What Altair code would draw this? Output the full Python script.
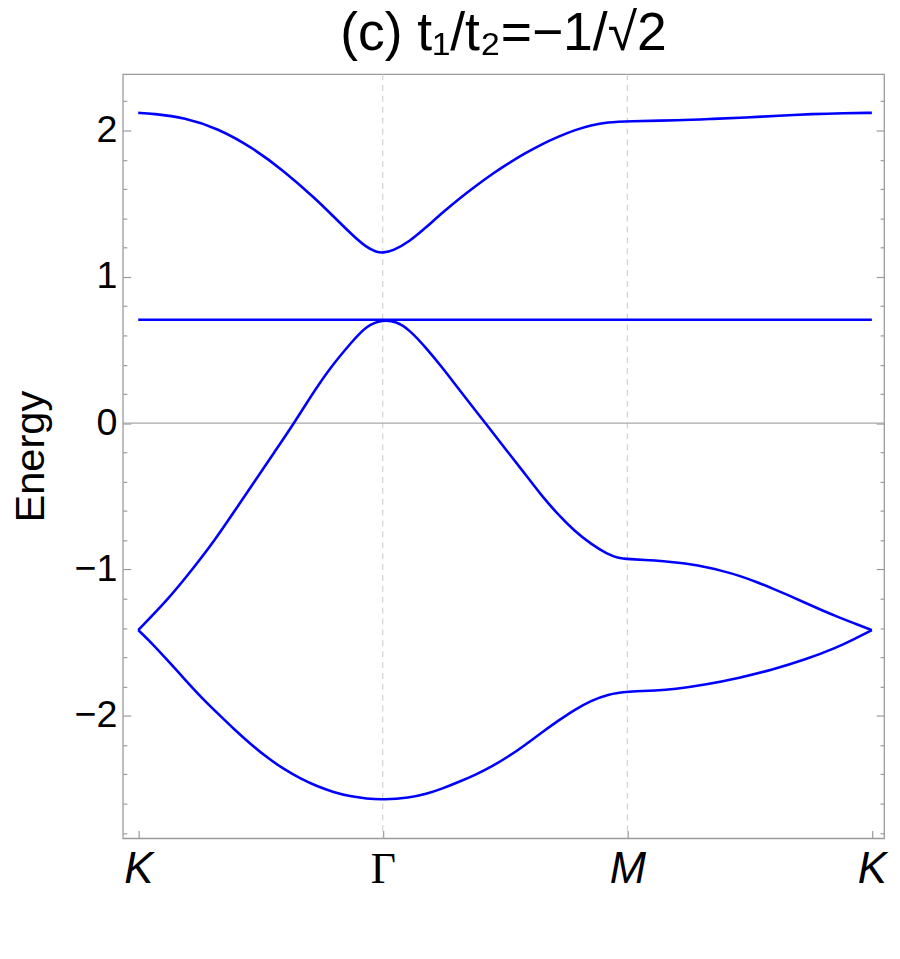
import altair as alt
import pandas as pd

# High-symmetry path: K - Gamma - M - K (equal segment lengths)
k_positions = [0, 1, 2, 3]
k_labels = ["K", "Γ", "M", "K"]

# Band 1 (lowest)
band1_x = [0.0, 0.056, 0.124, 0.191, 0.259, 0.326, 0.394, 0.461, 0.529, 0.596, 0.664,
           0.731, 0.799, 0.866, 0.934, 1.0,
           1.109, 1.177, 1.244, 1.312, 1.379, 1.447, 1.514, 1.582, 1.649, 1.717,
           1.784, 1.852, 1.919, 2.0,
           2.121, 2.188, 2.323, 2.458, 2.592, 2.727, 2.861, 2.929, 3.0]
band1_E = [-1.414, -1.504, -1.628, -1.752, -1.876, -1.985, -2.095, -2.195, -2.288, -2.365, -2.430,
           -2.482, -2.522, -2.550, -2.566, -2.573,
           -2.560, -2.535, -2.497, -2.451, -2.403, -2.345, -2.278, -2.200, -2.115, -2.034,
           -1.958, -1.896, -1.853, -1.833,
           -1.827, -1.819, -1.786, -1.741, -1.685, -1.617, -1.530, -1.475, -1.414]

# Band 2 (dispersive, touches the flat band at Gamma)
band2_x = [0.0, 0.124, 0.221, 0.313, 0.394, 0.475, 0.556, 0.637, 0.708, 0.785, 0.873, 0.934, 1.0,
           1.055, 1.109, 1.177, 1.244, 1.312, 1.420, 1.514, 1.582, 1.649, 1.717, 1.784, 1.852,
           1.919, 1.960, 2.0,
           2.121, 2.188, 2.256, 2.323, 2.390, 2.458, 2.525, 2.592, 2.660, 2.727, 2.794, 2.861,
           2.929, 3.0]
band2_E = [-1.414, -1.200, -1.000, -0.800, -0.600, -0.400, -0.200, 0.000, 0.190, 0.380, 0.555, 0.668, 0.707,
           0.695, 0.639, 0.515, 0.379, 0.230, 0.000, -0.203, -0.347, -0.494, -0.625, -0.737, -0.827,
           -0.895, -0.920, -0.929,
           -0.938, -0.950, -0.963, -0.984, -1.010, -1.042, -1.083, -1.128, -1.177, -1.227, -1.277, -1.324,
           -1.368, -1.414]

# Band 3 (flat band)
band3_x = [0.0, 3.0]
band3_E = [0.707, 0.707]

# Band 4 (top)
band4_x = [0.0, 0.056, 0.191, 0.326, 0.461, 0.596, 0.731, 0.800, 0.873, 0.934, 0.974, 1.0,
           1.042, 1.109, 1.177, 1.244, 1.312, 1.379, 1.447, 1.514, 1.582, 1.649, 1.717,
           1.784, 1.852, 1.919, 2.0,
           2.215, 2.350, 2.485, 2.619, 2.754, 2.888, 3.0]
band4_E = [2.121, 2.116, 2.089, 2.014, 1.890, 1.725, 1.525, 1.410, 1.290, 1.200, 1.170, 1.164,
           1.178, 1.241, 1.338, 1.439, 1.534, 1.620, 1.703, 1.777, 1.845, 1.906, 1.958,
           2.003, 2.037, 2.057, 2.064,
           2.070, 2.080, 2.089, 2.102, 2.113, 2.119, 2.121]

y_tick_values = [-2.8, -2.6, -2.4, -2.2, -2.0, -1.8, -1.6, -1.4, -1.2, -1.0, -0.8, -0.6, -0.4,
                 -0.2, 0.0, 0.2, 0.4, 0.6, 0.8, 1.0, 1.2, 1.4, 1.6, 1.8, 2.0, 2.2]
vline_positions = [1, 2]
zero_level = [0.0]

rows = []
for name, xs, es in [("1", band1_x, band1_E), ("2", band2_x, band2_E),
                     ("3", band3_x, band3_E), ("4", band4_x, band4_E)]:
    rows += [{"band": name, "k": x, "E": e} for x, e in zip(xs, es)]
df = pd.DataFrame(rows)

x_scale = alt.Scale(domain=[-0.063, 3.05], nice=False, zero=False)
y_scale = alt.Scale(domain=[-2.837, 2.386], nice=False, zero=False)

FONT = "Liberation Sans"
FRAME = "#9a9a9a"
major_test = "abs(datum.value - round(datum.value)) < 0.01"

label_array = "[" + ",".join("'" + s + "'" for s in k_labels) + "]"

x_axis = alt.Axis(
    values=k_positions,
    labelExpr=label_array + "[datum.value]",
    labelFontSize=44,
    labelFont={"condition": {"test": "datum.value === 1", "value": "Liberation Serif"}, "value": FONT},
    labelFontStyle={"condition": {"test": "datum.value === 1", "value": "normal"}, "value": "italic"},
    labelColor="black",
    labelPadding=18,
    tickSize={"expr": "-8"},
    tickColor=FRAME,
    tickWidth=1.2,
    domain=False,
    grid=False,
    title=None,
)

y_axis_left = alt.Axis(
    values=y_tick_values,
    labelExpr=major_test + " ? format(datum.value, 'd') : ''",
    labelFontSize=38,
    labelFont=FONT,
    labelColor="black",
    labelPadding=14,
    tickSize={"expr": major_test + " ? -8 : -4"},
    tickColor=FRAME,
    tickWidth=1.2,
    domain=False,
    grid=False,
    title="Energy",
    titleFont=FONT,
    titleFontSize=42,
    titleFontWeight="normal",
    titleColor="black",
    titleX=-80,
    titleY=386,
    titleBaseline="alphabetic",
    titleAngle=270,
    labelFlush=False,
    labelOverlap=False,
)

y_axis_right = alt.Axis(
    orient="right",
    values=y_tick_values,
    labels=False,
    tickSize={"expr": major_test + " ? -8 : -4"},
    tickColor=FRAME,
    tickWidth=1.2,
    domain=False,
    grid=False,
    title=None,
)

vlines = alt.Chart(pd.DataFrame({"k": vline_positions})).mark_rule(
    color="#c8c8c8", strokeDash=[6, 5], strokeWidth=1
).encode(x=alt.X("k:Q", scale=x_scale, axis=None))

zero = alt.Chart(pd.DataFrame({"E": zero_level})).mark_rule(
    color="#a8a8a8", strokeWidth=1.2
).encode(y=alt.Y("E:Q", scale=y_scale, axis=y_axis_right))

lines = alt.Chart(df).mark_line(
    color="#0000ff", strokeWidth=2.6, interpolate="basis"
).encode(
    x=alt.X("k:Q", scale=x_scale, axis=x_axis),
    y=alt.Y("E:Q", scale=y_scale, axis=y_axis_left),
    detail="band:N",
)

chart = (
    alt.layer(vlines, zero, lines)
    .resolve_axis(x="independent", y="independent")
    .properties(
        width=769,
        height=772,
        title=alt.Title(
            "(c) t₁/t₂=−1/√2",
            font=FONT,
            fontSize=54,
            fontWeight="normal",
            color="black",
            anchor="middle",
            baseline="alphabetic",
            offset=14,
            dy=44,
        ),
        autosize=alt.AutoSizeParams(type="none"),
        padding={"left": 116, "top": 62, "right": 8, "bottom": 100},
    )
    .configure_view(stroke=FRAME, strokeWidth=1.3)
)

chart.save("out.html", embed_options={"renderer": "svg", "actions": False})
